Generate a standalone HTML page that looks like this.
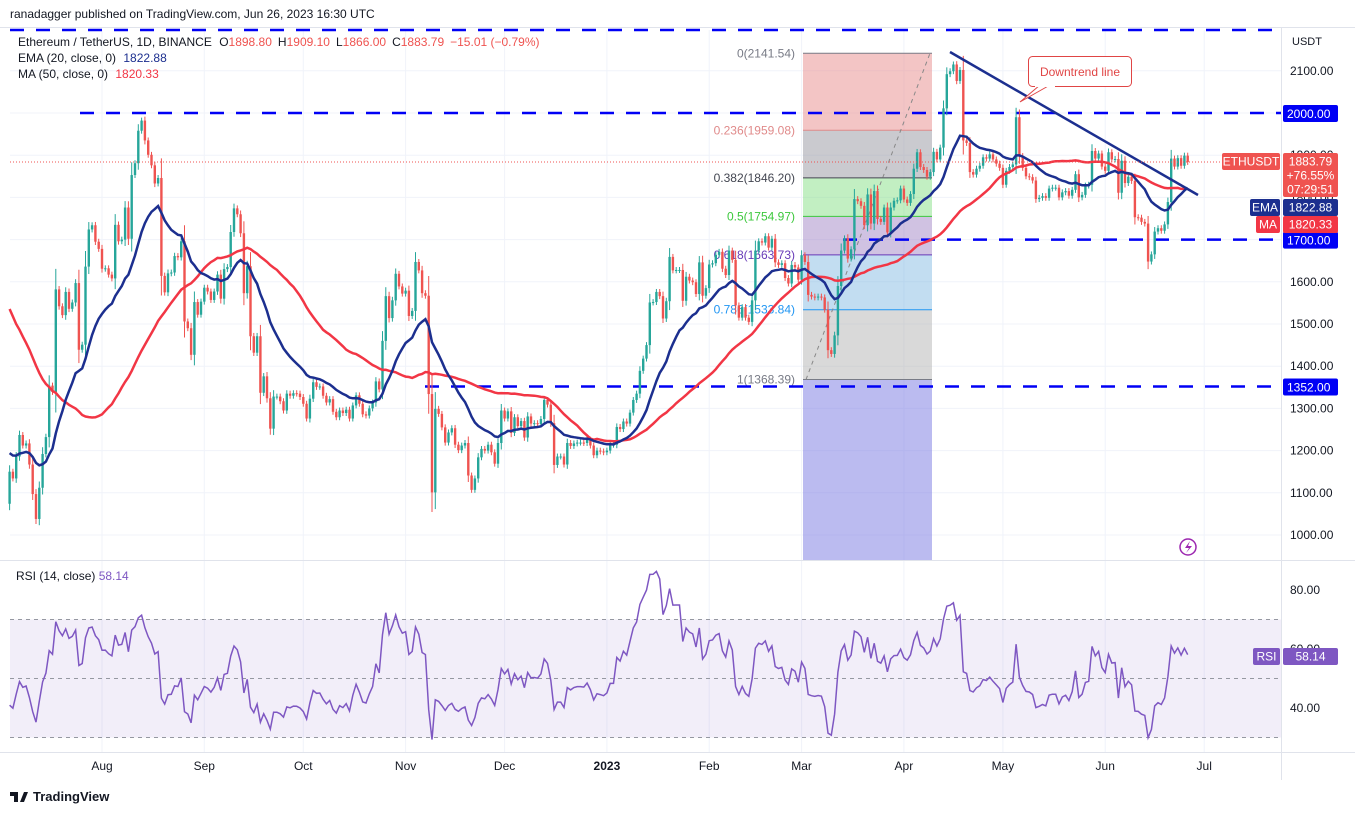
<!DOCTYPE html>
<html><head><meta charset="utf-8">
<style>
html,body{margin:0;padding:0;background:#fff;width:1355px;height:814px;overflow:hidden;font-family:"Liberation Sans",sans-serif;}
svg{position:absolute;left:0;top:0}
</style></head>
<body>
<svg id="c" width="1355" height="814"></svg>
<script>
const startDate = "2022-07-04";
const priorCloses = [2060,2023,2090,1912,2018,1962,1975,2043,1972,1978,1943,1793,1726,1793,1811,1996,1941,
1822,1832,1776,1804,1806,1859,1812,1794,1790,1661,1530,1434,1208,1206,1234,1067,1086,1000,1124,1127,1124,1049,1142,1226,1243,1199,1193,1139,1098,1070,
1060,1067,1074];
const closes = [
1150,1134,1186,1237,1212,1217,1167,1097,1038,1112,1192,1232,1354,1339,1582,1542,1521,1576,1536,1551,1597,1439,1451,1636,1724,1734,1695,1678,
1631,1632,1617,1608,1735,1696,1700,1776,1702,1853,1881,1958,1982,1935,1901,1876,1833,1846,1614,1575,1620,1622,1661,1658,1696,1506,1490,1427,1552,1522,1553,
1586,1577,1557,1577,1617,1560,1630,1635,1718,1774,1760,1715,1573,1637,1471,1432,1471,1337,1376,1324,1252,1328,1328,1317,1295,1335,1330,1336,1335,1327,
1311,1276,1323,1362,1351,1352,1330,1314,1322,1292,1279,1295,1289,1297,1276,1307,1331,1311,1286,1283,1300,1314,1364,1345,1460,1566,1514,1556,1619,1589,1572,
1579,1519,1531,1647,1627,1573,1567,1334,1101,1299,1287,1255,1219,1243,1253,1214,1201,1212,1218,1141,1107,1134,1184,1204,1200,1214,1196,1169,1218,1295,
1276,1293,1242,1279,1258,1270,1231,1281,1264,1265,1263,1275,1320,1309,1265,1166,1186,1186,1167,1218,1211,1217,1219,1219,1218,1226,1212,1189,1200,1198,1196,
1200,1214,1214,1256,1251,1269,1264,1290,1320,1335,1389,1418,1450,1551,1552,1576,1566,1513,1554,1659,1627,1628,1628,1555,1612,1603,1599,1571,1646,1567,1585,
1641,1644,1664,1671,1631,1616,1674,1652,1544,1515,1540,1515,1505,1556,1674,1696,1693,1708,1681,1702,1646,1640,1644,1609,1596,1640,1634,1605,
1663,1647,1569,1565,1563,1565,1563,1534,1438,1429,1473,1590,1674,1703,1655,1677,1796,1791,1780,1734,1807,1738,1815,1749,1742,1776,1717,1776,1792,1793,1821,
1795,1787,1808,1868,1907,1872,1865,1849,1860,1908,1890,1918,2011,2092,2099,2115,2076,2102,1935,1929,1860,1854,1868,1875,1895,1892,1902,1890,1880,1870,
1830,1863,1872,1878,1990,1898,1870,1850,1848,1840,1796,1799,1803,1799,1821,1823,1823,1800,1812,1815,1804,1818,1855,1800,1806,1828,1830,1910,1892,1904,1873,
1863,1907,1890,1891,1811,1887,1834,1849,1839,1753,1752,1742,1738,1648,1665,1719,1727,1721,1736,1789,1892,1873,1893,1875,1899,1884];
const priceTicks = [2100,2000,1900,1800,1700,1600,1500,1400,1300,1200,1100,1000];
const rsiTicks = [80,60,40];
const monthLabels = ["Aug","Sep","Oct","Nov","Dec","2023","Feb","Mar","Apr","May","Jun","Jul"];
const monthDays = [28,59,89,120,150,181,212,240,271,301,332,362];
const fibLevels = [0,0.236,0.382,0.5,0.618,0.786,1];
const fibHigh = 2141.54, fibLow = 1368.39;
const hLevels = [2000,1700,1352];
const legendVals = {ema:"1822.88", ma:"1820.33", rsi:"58.14", last:"1883.79"};

const svg=document.getElementById('c');const NS='http://www.w3.org/2000/svg';
function el(t,a,p){const e=document.createElementNS(NS,t);for(const k in a)e.setAttribute(k,a[k]);(p||svg).appendChild(e);return e;}
const X=i=>9.6+i*3.3;
const Y=p=>113+(2000-p)*0.422;
const RY=v=>590+(80-v)*2.95;
const L=10,R=1281;

priceTicks.forEach(p=>{const l=el('line',{x1:L,x2:R,y1:Y(p),y2:Y(p),stroke:'#f0f3fa'});});
monthDays.forEach(d=>{const l=el('line',{x1:X(d),x2:X(d),y1:30,y2:752,stroke:'#f0f3fa'});});
el('line',{x1:0,x2:1355,y1:560.5,y2:560.5,stroke:'#e0e3eb'});
el('line',{x1:0,x2:1355,y1:752.5,y2:752.5,stroke:'#e0e3eb'});
el('line',{x1:1281.5,x2:1281.5,y1:28,y2:780,stroke:'#e0e3eb'});
el('line',{x1:0,x2:1355,y1:27.5,y2:27.5,stroke:'#e0e3eb'});

const fibFills=['rgba(232,140,140,0.5)','rgba(150,150,160,0.5)','rgba(120,220,120,0.45)','rgba(150,120,190,0.45)','rgba(120,180,225,0.45)','rgba(170,170,170,0.45)'];
const fibCols=['#787b86','#e08a8a','#434651','#3cc83c','#673ab7','#2196f3','#787b86'];
const fx1=803,fx2=932;
const fp=l=>fibHigh-(fibHigh-fibLow)*l;
const fg=el('g',{});
for(let k=0;k<fibLevels.length-1;k++){el('rect',{x:fx1,y:Y(fp(fibLevels[k])),width:fx2-fx1,height:Y(fp(fibLevels[k+1]))-Y(fp(fibLevels[k])),fill:fibFills[k]},fg);}
el('rect',{x:fx1,y:Y(fibLow),width:fx2-fx1,height:560-Y(fibLow),fill:'rgba(120,120,225,0.5)'},fg);
fibLevels.forEach((l,k)=>{const y=Y(fp(l));el('line',{x1:fx1,x2:fx2,y1:y,y2:y,stroke:fibCols[k]},fg);
 const t=el('text',{x:795,y:y+4,'text-anchor':'end','font-size':12,fill:fibCols[k]},fg);t.textContent=l+'('+fp(l).toFixed(2)+')';
 });
el('line',{x1:806,y1:Y(fibLow),x2:930,y2:Y(fibHigh),stroke:'#888','stroke-dasharray':'4 4'},fg);

const hStart=[80,843,425];
hLevels.forEach((p,k)=>{const l=el('line',{x1:hStart[k],x2:R,y1:Y(p),y2:Y(p),stroke:'#0000f5','stroke-width':2.5,'stroke-dasharray':'14 12'});});
{const l=el('line',{x1:10,x2:R,y1:30,y2:30,stroke:'#0000f5','stroke-width':2.5,'stroke-dasharray':'14 12'});}

const cg=el('g',{});
closes.forEach((c,i)=>{const o=i?closes[i-1]:priorCloses[priorCloses.length-1];const up=c>=o;const col=up?'#26a69a':'#ef5350';
 const hi=Math.max(o,c),lo=Math.min(o,c);const w=Math.max(7,(hi-lo)*0.2);
 const x=X(i);
 el('line',{x1:x,x2:x,y1:Y(hi+w),y2:Y(lo-w),stroke:col,'stroke-width':1},cg);
 const r=el('rect',{x:x-1.2,y:Y(hi),width:2.4,height:Math.max(1,Y(lo)-Y(hi)),fill:col},cg);
 });

const all=priorCloses.concat(closes);const P=priorCloses.length;
let ema=[],e=all[0];const a=2/21;all.forEach((c,i)=>{e=i?c*a+e*(1-a):c;if(i>=P)ema.push(e);});
let ma=[];for(let i=P;i<all.length;i++){const s=all.slice(i-49,i+1);ma.push(s.reduce((x,y)=>x+y,0)/50);}
function path(arr,f){return arr.map((v,i)=>(i?'L':'M')+X(i).toFixed(1)+' '+f(v).toFixed(1)).join('');}
{const p=el('path',{d:path(ma,Y),fill:'none',stroke:'#f23645','stroke-width':2.5});}
{const p=el('path',{d:path(ema,Y),fill:'none',stroke:'#1c2f8f','stroke-width':2.5});}

{const l=el('line',{x1:950,y1:52,x2:1198,y2:195,stroke:'#1c2f8f','stroke-width':2.5});}
{const g=el('g',{});
 el('path',{d:'M1040 85 L1020 102 L1050 85',fill:'#fff',stroke:'#e04545'},g);
 el('rect',{x:1028.5,y:56.5,width:103,height:30,rx:4,fill:'#fff',stroke:'#e04545'},g);
 el('rect',{x:1035,y:84,width:20,height:3,fill:'#fff'},g);
 const t=el('text',{x:1080,y:76,'text-anchor':'middle','font-size':12,fill:'#e04545'},g);t.textContent='Downtrend line';}

const last=closes[closes.length-1];
el('line',{x1:L,x2:R,y1:Y(last),y2:Y(last),stroke:'#ef5350','stroke-dasharray':'1 2'});

priceTicks.forEach(p=>{const t=el('text',{x:1290,y:Y(p)+4,'font-size':12,fill:'#131722'});t.textContent=p.toFixed(2);});
{const t=el('text',{x:1292,y:45,'font-size':11,fill:'#131722'});t.textContent='USDT';}
hLevels.forEach(p=>{const g=el('g',{});
 el('rect',{x:1283,y:Y(p)-8,width:55,height:17,fill:'#0000f5',rx:2},g);const t=el('text',{x:1287,y:Y(p)+5,'font-size':12,fill:'#fff'},g);t.textContent=p.toFixed(2);});
function tag(x,y,w,h,fill,txt,name){const g=el('g',{});
 el('rect',{x:x,y:y,width:w,height:h,fill:fill,rx:2},g);txt.forEach((s,k)=>{const t=el('text',{x:x+w/2,y:y+12.5+k*14,'font-size':12,fill:'#fff','text-anchor':'middle'},g);t.textContent=s;});}
tag(1222,153,58,17,'#ef5350',['ETHUSDT'],'symbol-tag');
tag(1283,153,55,44,'#ef5350',[legendVals.last,'+76.55%','07:29:51'],'last-price-tag');
tag(1250,199,30,17,'#1c2f8f',['EMA'],'ema-tag');
tag(1283,199,55,17,'#1c2f8f',[legendVals.ema],'ema-value-tag');
tag(1256,216,24,17,'#f23645',['MA'],'ma-tag');
tag(1283,216,55,17,'#f23645',[legendVals.ma],'ma-value-tag');

{const g=el('g',{});
 el('circle',{cx:1188,cy:547,r:8,fill:'none',stroke:'#9c27b0','stroke-width':1.5},g);
 el('path',{d:'M1190 541 L1185 548 L1189 548 L1186 553 L1192 546 L1188 546 Z',fill:'#9c27b0'},g);}

el('rect',{x:L,y:RY(70),width:R-L,height:RY(30)-RY(70),fill:'rgba(126,87,194,0.1)'});
[70,50,30].forEach(v=>el('line',{x1:L,x2:R,y1:RY(v),y2:RY(v),stroke:'#9598a1','stroke-dasharray':'4 4'}));
let rsi=[],ag=0,al=0;for(let i=1;i<all.length;i++){const d=all[i]-all[i-1];const g=Math.max(d,0),lo=Math.max(-d,0);
 if(i<=14){ag+=g/14;al+=lo/14;}else{ag=(ag*13+g)/14;al=(al*13+lo)/14;}
 if(i>=P)rsi.push(al===0?50:100-100/(1+ag/al));}
{const p=el('path',{d:path(rsi,RY),fill:'none',stroke:'#7e57c2','stroke-width':1.5});}
rsiTicks.forEach(v=>{const t=el('text',{x:1290,y:RY(v)+4,'font-size':12,fill:'#131722'});t.textContent=v.toFixed(2);});
tag(1253,648,27,17,'#7e57c2',['RSI'],'rsi-tag');
tag(1283,648,55,17,'#7e57c2',[legendVals.rsi],'rsi-value-tag');
{const t=el('text',{x:16,y:580,'font-size':12,fill:'#131722'});t.textContent='RSI (14, close) ';const s=el('tspan',{fill:'#7e57c2'},t);s.textContent=' '+legendVals.rsi;}

monthLabels.forEach((m,k)=>{const t=el('text',{x:X(monthDays[k]),y:770,'font-size':12,fill:'#131722','text-anchor':'middle','font-weight':m==='2023'?'bold':'normal'});t.textContent=m;});

{const t=el('text',{x:10,y:18,'font-size':12,fill:'#131722'});t.textContent='ranadagger published on TradingView.com, Jun 26, 2023 16:30 UTC';}
{const t=el('text',{x:18,y:46,'font-size':12,fill:'#131722'});
 t.innerHTML='Ethereum / TetherUS, 1D, BINANCE  <tspan dx="4">O</tspan><tspan fill="#ef5350">1898.80</tspan><tspan dx="6">H</tspan><tspan fill="#ef5350">1909.10</tspan><tspan dx="6">L</tspan><tspan fill="#ef5350">1866.00</tspan><tspan dx="6">C</tspan><tspan fill="#ef5350">1883.79</tspan><tspan dx="6" fill="#ef5350">−15.01 (−0.79%)</tspan>';}
{const t=el('text',{x:18,y:62,'font-size':12,fill:'#131722'});t.innerHTML='EMA (20, close, 0) <tspan dx="4" fill="#1c2f8f">1822.88</tspan>';}
{const t=el('text',{x:18,y:78,'font-size':12,fill:'#131722'});t.innerHTML='MA (50, close, 0) <tspan dx="4" fill="#f23645">1820.33</tspan>';}
{const g=el('g',{});
 el('path',{d:'M10 792 h8 v10 h-4 v-6 h-4z M20 802 l4 -10 h4 l-4 10z',fill:'#131722'},g);
 const t=el('text',{x:33,y:801,'font-size':13,fill:'#131722','font-weight':'bold'},g);t.textContent='TradingView';}
</script>
</body></html>
